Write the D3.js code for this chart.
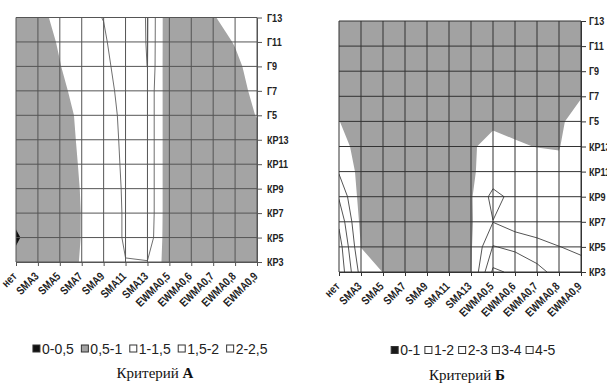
<!DOCTYPE html>
<html><head><meta charset="utf-8">
<script src="https://cdn.jsdelivr.net/npm/d3@7"></script>
<style>body{margin:0;background:#fff} svg{display:block}</style>
</head><body><svg id="c" width="607" height="390"></svg>
<script>
const xCategories = ["нет","SMA3","SMA5","SMA7","SMA9","SMA11","SMA13","EWMA0,5","EWMA0,6","EWMA0,7","EWMA0,8","EWMA0,9"];
const yCategories = ["КР3","КР5","КР7","КР9","КР11","КР13","Г5","Г7","Г9","Г11","Г13"];

// Критерий А — rows КР3 … Г13, columns as xCategories
const valuesA = [
  [0.70,0.80,0.80,1.030,1.20,1.49,1.48,0.73,0.70,0.75,0.80,0.85],
  [0.40,0.90,0.80,1.010,1.25,1.55,1.85,0.60,0.70,0.75,0.80,0.85],
  [0.70,0.85,0.80,1.009,1.25,1.55,1.90,0.60,0.70,0.75,0.80,0.85],
  [0.70,0.80,0.80,1.020,1.26,1.56,1.90,0.60,0.70,0.75,0.80,0.85],
  [0.70,0.80,0.80,1.043,1.27,1.58,1.90,0.60,0.70,0.75,0.80,0.85],
  [0.70,0.80,0.80,1.074,1.28,1.60,1.90,0.60,0.70,0.80,0.85,0.90],
  [0.70,0.80,0.80,1.110,1.30,1.62,1.90,0.60,0.70,0.80,0.85,1.014],
  [0.70,0.80,0.85,1.260,1.35,1.65,1.90,0.60,0.70,0.80,0.90,1.068],
  [0.70,0.80,0.98,1.300,1.40,1.70,2.005,0.55,0.70,0.85,0.95,1.10],
  [0.70,0.75,1.054,1.300,1.45,1.75,2.02,0.55,0.70,0.90,1.015,1.30],
  [0.70,0.80,1.20,1.400,1.51,1.70,2.03,0.55,0.70,0.95,1.30,1.45]
];
const thresholdsA = [0.5, 1, 1.5, 2];
const legendLabelsA = ["0-0,5","0,5-1","1-1,5","1,5-2","2-2,5"];

// Критерий Б — rows КР3 … Г13
const valuesB = [
  [4.80,1.60,0.98,0.5,0.5,0.5,0.90,4.20,3.80,3.30,2.64,2.40],
  [4.50,0.98,0.60,0.5,0.5,0.5,0.90,3.05,2.80,2.40,2.02,1.80],
  [3.80,0.72,0.50,0.5,0.5,0.5,0.90,1.98,1.47,1.29,1.30,1.20],
  [2.90,0.58,0.50,0.5,0.5,0.5,0.90,2.30,1.70,1.50,1.40,1.40],
  [1.90,0.66,0.50,0.5,0.5,0.5,0.90,1.35,1.50,1.72,1.26,1.60],
  [1.50,0.50,0.50,0.5,0.5,0.5,0.80,1.53,1.117,0.97,0.95,1.80],
  [1.02,0.50,0.50,0.5,0.5,0.5,0.50,0.70,0.70,0.70,0.78,1.60],
  [0.50,0.50,0.50,0.5,0.5,0.5,0.50,0.50,0.55,0.60,0.60,0.93],
  [0.50,0.50,0.50,0.5,0.5,0.5,0.50,0.50,0.50,0.50,0.50,0.50],
  [0.50,0.50,0.50,0.5,0.5,0.5,0.50,0.50,0.50,0.50,0.50,0.50],
  [0.50,0.50,0.50,0.5,0.5,0.5,0.50,0.50,0.50,0.50,0.50,0.50]
];
const thresholdsB = [1, 2, 3, 4];
const legendLabelsB = ["0-1","1-2","2-3","3-4","4-5"];

const svg = d3.select("#c");
const labelFont = "'Liberation Sans',Arial,sans-serif";

function condense(sel, f) {
  sel.each(function() {
    const w = this.getComputedTextLength();
    d3.select(this).attr("textLength", w * f).attr("lengthAdjust", "spacingAndGlyphs");
  });
}

function drawChart(cfg) {
  const nx = xCategories.length, ny = yCategories.length;
  const g = svg.append("g");
  const x = d3.scalePoint().domain(xCategories).range([cfg.x0, cfg.x1]);
  const y = d3.scalePoint().domain(yCategories).range([cfg.yBottom, cfg.yTop]);
  const cx = d3.scaleLinear().domain([0.5, nx - 0.5]).range([cfg.x0, cfg.x1]);
  const cy = d3.scaleLinear().domain([0.5, ny - 0.5]).range([cfg.yBottom, cfg.yTop]);
  const proj = d3.geoTransform({point(px, py) { this.stream.point(cx(px), cy(py)); }});
  const path = d3.geoPath(proj);
  const contours = d3.contours().size([nx, ny]).smooth(true).thresholds(cfg.thresholds)(cfg.values.flat());

  const clipId = "clip" + cfg.id;
  svg.append("clipPath").attr("id", clipId).append("rect")
    .attr("x", cfg.x0).attr("y", cfg.yTop)
    .attr("width", cfg.x1 - cfg.x0).attr("height", cfg.yBottom - cfg.yTop);

  const area = g.append("g").attr("clip-path", `url(#${clipId})`);
  area.append("rect").attr("x", cfg.x0).attr("y", cfg.yTop)
    .attr("width", cfg.x1 - cfg.x0).attr("height", cfg.yBottom - cfg.yTop)
    .attr("fill", cfg.fills[0]);
  area.selectAll("path.band").data(contours).join("path").attr("class", "band")
    .attr("d", path).attr("fill", (d, i) => cfg.fills[i + 1]).attr("stroke", "none");
  area.selectAll("path.iso").data(contours.filter(c => cfg.strokeLevels.includes(c.value)))
    .join("path").attr("class", "iso")
    .attr("d", path).attr("fill", "none").attr("stroke", cfg.lineColor).attr("stroke-width", cfg.lineWidth);

  // grid
  const grid = g.append("g").attr("stroke", cfg.gridColor).attr("stroke-width", 1);
  grid.selectAll("line.v").data(xCategories).join("line").attr("class", "v")
    .attr("x1", d => x(d)).attr("x2", d => x(d)).attr("y1", cfg.yTop).attr("y2", cfg.yBottom);
  grid.selectAll("line.h").data(yCategories).join("line").attr("class", "h")
    .attr("y1", d => y(d)).attr("y2", d => y(d)).attr("x1", cfg.x0).attr("x2", cfg.x1);

  // axes
  const ay = g.append("g").attr("transform", `translate(${cfg.x1},0)`)
    .call(d3.axisRight(y).tickSize(5).tickSizeOuter(0).tickPadding(cfg.yPad));
  ay.select(".domain").attr("stroke", cfg.gridColor);
  ay.selectAll(".tick line").attr("stroke", cfg.gridColor);
  ay.selectAll("text").attr("font-family", labelFont).attr("font-weight", "bold")
    .attr("font-size", 11).attr("fill", "#222").call(condense, 0.82);

  const ax = g.append("g").attr("transform", `translate(0,${cfg.yBottom})`)
    .call(d3.axisBottom(x).tickSize(4).tickSizeOuter(0));
  ax.select(".domain").attr("stroke", cfg.gridColor);
  ax.selectAll(".tick line").attr("stroke", cfg.gridColor);
  ax.selectAll("text").attr("font-family", labelFont).attr("font-weight", "bold")
    .attr("font-size", 11.5).attr("fill", "#222")
    .attr("text-anchor", "end").attr("x", 0).attr("y", 0).attr("dy", 0)
    .attr("transform", "translate(1,15) rotate(-45)").call(condense, 0.82);

  // legend
  const lg = g.append("g");
  let pos = 0;
  cfg.legendLabels.forEach((lab, i) => {
    const it = lg.append("g").attr("transform", `translate(${pos},0)`);
    it.append("rect").attr("x", 0.5).attr("y", -3.5).attr("width", 7).attr("height", 7)
      .attr("fill", cfg.legendFills[i]).attr("stroke", "#333").attr("stroke-width", 1);
    const t = it.append("text").attr("x", 9.5).attr("y", 0).attr("dy", "0.36em")
      .attr("font-family", "'Liberation Sans',Arial,sans-serif").attr("font-size", 14)
      .attr("fill", "#222").text(lab);
    pos += 9.5 + t.node().getComputedTextLength() + cfg.legendGap;
  });
  const totalW = pos - cfg.legendGap;
  lg.attr("transform", `translate(${cfg.legendCx - totalW / 2},${cfg.legendY})`);

  // title
  const tt = g.append("text").attr("x", cfg.titleCx).attr("y", cfg.titleY)
    .attr("text-anchor", "middle").attr("font-family", "'Liberation Serif','Times New Roman',serif")
    .attr("font-size", 15).attr("fill", "#111");
  tt.append("tspan").text("Критерий ");
  tt.append("tspan").attr("font-weight", "bold").text(cfg.titleLetter);
}

drawChart({
  id: "A", values: valuesA, thresholds: thresholdsA,
  fills: ["#111111", "#a4a4a4", "#ffffff", "#ffffff", "#ffffff"],
  strokeLevels: [1.5, 2], lineColor: "#6f6f6f", lineWidth: 1,
  x0: 16, x1: 257, yTop: 17.5, yBottom: 262, gridColor: "#555", yPad: 5,
  legendLabels: legendLabelsA,
  legendFills: ["#111111", "#a4a4a4", "#ffffff", "#ffffff", "#ffffff"],
  legendGap: 7, legendCx: 150, legendY: 348.5,
  titleCx: 155, titleY: 378, titleLetter: "А"
});

drawChart({
  id: "B", values: valuesB, thresholds: thresholdsB,
  fills: ["#a2a2a2", "#ffffff", "#ffffff", "#ffffff", "#ffffff"],
  strokeLevels: [2, 3, 4], lineColor: "#555", lineWidth: 1,
  x0: 339, x1: 581, yTop: 21, yBottom: 272, gridColor: "#333", yPad: 3,
  legendLabels: legendLabelsB,
  legendFills: ["#1a1a1a", "#ffffff", "#ffffff", "#ffffff", "#ffffff"],
  legendGap: 4, legendCx: 473, legendY: 350,
  titleCx: 467, titleY: 380, titleLetter: "Б"
});
</script>
</body></html>
